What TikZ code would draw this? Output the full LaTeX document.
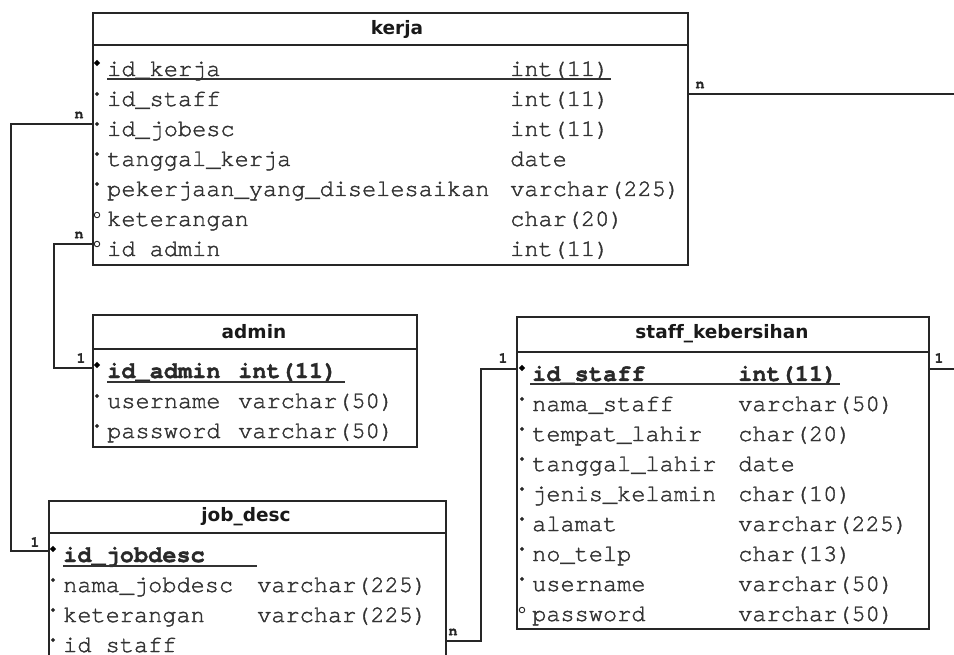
\documentclass[tikz,border=0pt]{standalone}
\usepackage{fontspec}
\usetikzlibrary{shapes.geometric}
\newfontfamily\titlefont[Ligatures=NoCommon]{DejaVu Sans}
\newfontfamily\courfont[Ligatures=NoCommon,FakeBold=1.6]{TeX Gyre Cursor}
\definecolor{txt}{HTML}{333333}
\tikzset{
  tablebox/.style={draw=black!85, line width=1.6pt, rectangle, inner sep=0pt, anchor=north west, fill=none},
  sepline/.style={draw=black!85, line width=1.6pt},
  ttl/.style={font=\titlefont\bfseries\fontsize{18.5}{18.5}\selectfont, text=black!90, inner sep=0pt},
  fld/.style={font=\courfont\fontsize{23.6}{28}\selectfont, text=txt, inner sep=0pt, anchor=base west},
  fldb/.style={font=\courfont\bfseries\fontsize{23.6}{28}\selectfont, text=txt!80!black, inner sep=0pt, anchor=base west},
  uline/.style={draw=txt, line width=1.3pt},
  pkm/.style={diamond, fill=black, inner sep=0pt, minimum size=6.5pt},
  fkm/.style={diamond, fill=black!85, inner sep=0pt, minimum size=4.2pt},
  nlm/.style={circle, draw=black!85, line width=0.9pt, inner sep=0pt, minimum size=5.5pt},
  conn/.style={draw=black!85, line width=1.6pt},
  card/.style={font=\courfont\bfseries\fontsize{15}{15}\selectfont, text=black!85, inner sep=0pt}
}
\begin{document}
\begin{tikzpicture}[x=1pt,y=-1pt]
\useasboundingbox (0,0) rectangle (954,655);
\clip (0,0) rectangle (954,655);
\fill[white] (0,0) rectangle (954,655);

% ---------------- kerja ----------------
\node[tablebox, minimum width=595pt, minimum height=252pt] (kerja) at (92,12) {};
\coordinate (kerjaSL) at (92,45); \coordinate (kerjaSR) at (687,45);
\draw[sepline] (kerjaSL) -- (kerjaSR);
\node[ttl] (kerjaT) at (397,29) {kerja};
\node[pkm] (kM1) at (97,63) {};
\node[fld] (kN1) at (107,76) {id\_kerja};
\node[fld] (kY1) at (510,76) {int(11)};
\coordinate (kU1a) at (107,79); \coordinate (kU1b) at (611,79);
\draw[uline] (kU1a) -- (kU1b);
\node[fkm] (kM2) at (97,94) {};
\node[fld] (kN2) at (107,106) {id\_staff};
\node[fld] (kY2) at (510,106) {int(11)};
\node[fkm] (kM3) at (97,124) {};
\node[fld] (kN3) at (107,136) {id\_jobesc};
\node[fld] (kY3) at (510,136) {int(11)};
\node[fkm] (kM4) at (97,154) {};
\node[fld] (kN4) at (107,166) {tanggal\_kerja};
\node[fld] (kY4) at (510,166) {date};
\node[fkm] (kM5) at (97,184) {};
\node[fld] (kN5) at (107,196) {pekerjaan\_yang\_diselesaikan};
\node[fld] (kY5) at (510,196) {varchar(225)};
\node[nlm] (kM6) at (97,215) {};
\node[fld] (kN6) at (107,226) {keterangan};
\node[fld] (kY6) at (510,226) {char(20)};
\node[nlm] (kM7) at (97,244) {};
\node[fld] (kN7) at (107,256) {id admin};
\node[fld] (kY7) at (510,256) {int(11)};

% ---------------- admin ----------------
\node[tablebox, minimum width=324pt, minimum height=132pt] (admin) at (92,314) {};
\coordinate (adminSL) at (92,349); \coordinate (adminSR) at (416,349);
\draw[sepline] (adminSL) -- (adminSR);
\node[ttl] (adminT) at (254,332) {admin};
\node[pkm] (aM1) at (97,365) {};
\node[fldb] (aN1) at (107,378) {id\_admin};
\node[fldb] (aY1) at (238,378) {int(11)};
\coordinate (aU1a) at (107,382); \coordinate (aU1b) at (345,382);
\draw[uline] (aU1a) -- (aU1b);
\node[fkm] (aM2) at (97,396) {};
\node[fld] (aN2) at (107,408) {username};
\node[fld] (aY2) at (238,408) {varchar(50)};
\node[fkm] (aM3) at (97,426) {};
\node[fld] (aN3) at (107,438) {password};
\node[fld] (aY3) at (238,438) {varchar(50)};

% ---------------- staff_kebersihan ----------------
\node[tablebox, minimum width=412pt, minimum height=312pt] (staff) at (516,316) {};
\coordinate (staffSL) at (516,352); \coordinate (staffSR) at (928,352);
\draw[sepline] (staffSL) -- (staffSR);
\node[ttl] (staffT) at (722,334) {staff\_kebersihan};
\node[pkm] (sM1) at (522,368) {};
\node[fldb] (sN1) at (532,381) {id\_staff};
\node[fldb] (sY1) at (738,381) {int(11)};
\coordinate (sU1a) at (530,384); \coordinate (sU1b) at (840,384);
\draw[uline] (sU1a) -- (sU1b);
\node[fkm] (sM2) at (522,399) {};
\node[fld] (sN2) at (532,411) {nama\_staff};
\node[fld] (sY2) at (738,411) {varchar(50)};
\node[fkm] (sM3) at (522,429) {};
\node[fld] (sN3) at (532,441) {tempat\_lahir};
\node[fld] (sY3) at (738,441) {char(20)};
\node[fkm] (sM4) at (522,459) {};
\node[fld] (sN4) at (532,471) {tanggal\_lahir};
\node[fld] (sY4) at (738,471) {date};
\node[fkm] (sM5) at (522,489) {};
\node[fld] (sN5) at (532,501) {jenis\_kelamin};
\node[fld] (sY5) at (738,501) {char(10)};
\node[fkm] (sM6) at (522,519) {};
\node[fld] (sN6) at (532,531) {alamat};
\node[fld] (sY6) at (738,531) {varchar(225)};
\node[fkm] (sM7) at (522,549) {};
\node[fld] (sN7) at (532,561) {no\_telp};
\node[fld] (sY7) at (738,561) {char(13)};
\node[fkm] (sM8) at (522,579) {};
\node[fld] (sN8) at (532,591) {username};
\node[fld] (sY8) at (738,591) {varchar(50)};
\node[nlm] (sM9) at (522,610) {};
\node[fld] (sN9) at (532,621) {password};
\node[fld] (sY9) at (738,621) {varchar(50)};

% ---------------- job_desc ----------------
\node[tablebox, minimum width=397pt, minimum height=220pt] (job) at (48,500) {};
\coordinate (jobSL) at (48,533); \coordinate (jobSR) at (445,533);
\draw[sepline] (jobSL) -- (jobSR);
\node[ttl] (jobT) at (246,517) {job\_desc};
\node[pkm] (jM1) at (53,549) {};
\node[fldb] (jN1) at (63,562) {id\_jobdesc};
\coordinate (jU1a) at (63,566); \coordinate (jU1b) at (257,566);
\draw[uline] (jU1a) -- (jU1b);
\node[fkm] (jM2) at (53,580) {};
\node[fld] (jN2) at (63,592) {nama\_jobdesc};
\node[fld] (jY2) at (257,592) {varchar(225)};
\node[fkm] (jM3) at (53,610) {};
\node[fld] (jN3) at (63,622) {keterangan};
\node[fld] (jY3) at (257,622) {varchar(225)};
\node[fkm] (jM4) at (53,640) {};
\node[fld] (jN4) at (63,652) {id staff};

% ---------------- connectors ----------------
\coordinate (pKJob) at (92,124);
\coordinate (pJob) at (48,551);
\draw[conn] (pKJob) -- (11,124) |- (pJob);
\node[card] (c1n) at (79,115) {n};
\node[card] (c1o) at (35,542) {1};

\coordinate (pKAdm) at (92,244);
\coordinate (pAdm) at (92,368);
\draw[conn] (pKAdm) -- (54,244) |- (pAdm);
\node[card] (c2n) at (79,235) {n};
\node[card] (c2o) at (81,358) {1};

\coordinate (pKR) at (687,94);
\coordinate (eKR) at (954,94);
\draw[conn] (pKR) -- (eKR);
\node[card] (c3n) at (700,85) {n};

\coordinate (pSR) at (928,369);
\coordinate (eSR) at (954,369);
\draw[conn] (pSR) -- (eSR);
\node[card] (c4o) at (939,358) {1};

\coordinate (pSL) at (516,369);
\coordinate (pJR) at (445,641);
\draw[conn] (pSL) -- (481,369) |- (pJR);
\node[card] (c5o) at (503,358) {1};
\node[card] (c5n) at (453,632) {n};
\end{tikzpicture}
\end{document}
